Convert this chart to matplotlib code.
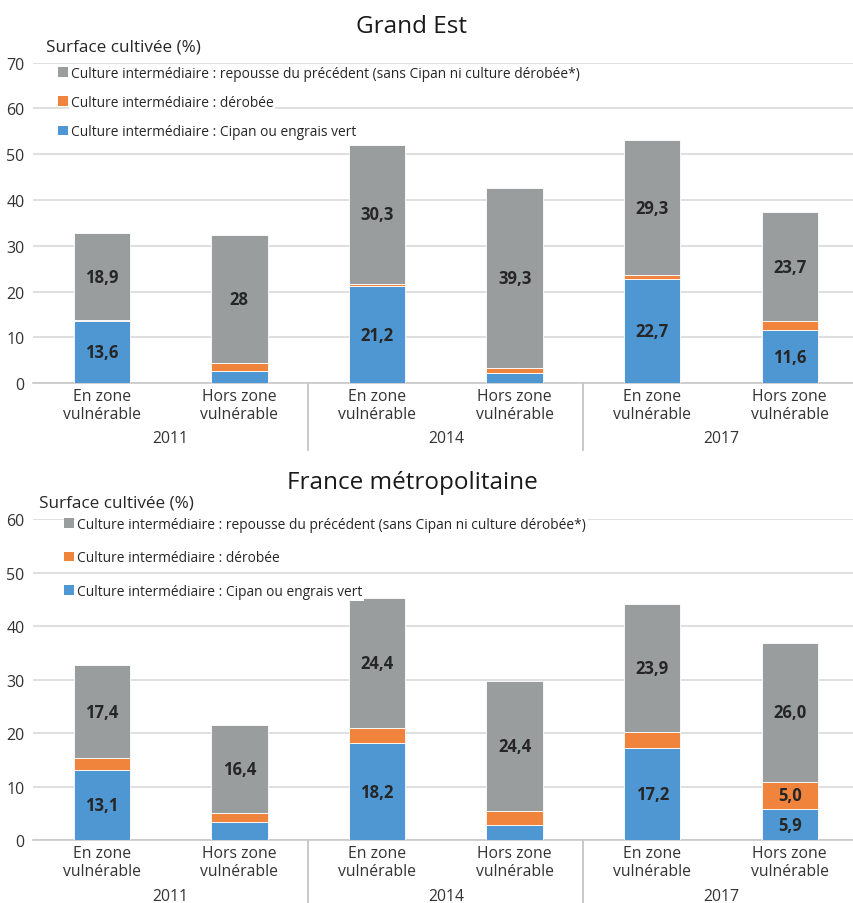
import matplotlib
matplotlib.use("Agg")
import matplotlib.pyplot as plt
from matplotlib.transforms import blended_transform_factory

plt.rcParams['font.family'] = ['Open Sans', 'DejaVu Sans']

# ---- data ----
categories = ["En zone\nvulnérable", "Hors zone\nvulnérable"] * 3
years = ["2011", "2014", "2017"]
series_names = [
    "Culture intermédiaire : Cipan ou engrais vert",
    "Culture intermédiaire : dérobée",
    "Culture intermédiaire : repousse du précédent (sans Cipan ni culture dérobée*)",
]
colors = ["#4f97d2", "#f0843c", "#9a9d9e"]

ge_cipan = [13.6, 2.7, 21.2, 2.3, 22.7, 11.6]
ge_derobee = [0.2, 1.7, 0.5, 1.1, 1.0, 2.0]
ge_repousse = [18.9, 28, 30.3, 39.3, 29.3, 23.7]

fr_cipan = [13.1, 3.4, 18.2, 2.9, 17.2, 5.9]
fr_derobee = [2.2, 1.7, 2.7, 2.5, 3.1, 5.0]
fr_repousse = [17.4, 16.4, 24.4, 24.4, 23.9, 26.0]

# which segments carry a value label
ge_labels = [[True, False, True, False, True, True],
             [False] * 6,
             [True] * 6]
fr_labels = [[True, False, True, False, True, True],
             [False, False, False, False, False, True],
             [True] * 6]

W, H = 854, 904
fig = plt.figure(figsize=(W / 100, H / 100), dpi=100)

def px_rect(left, top, right, bottom):
    return [left / W, 1 - bottom / H, (right - left) / W, (bottom - top) / H]

def draw_panel(ax, title, title_y, series, labels, fmt, ymax, surf_xy,
               leg_anchor, leg_spacing, sep_frac, year_frac):
    x = list(range(len(categories)))
    bottoms = [0.0] * len(x)
    containers = []
    for vals, col, name, lab in zip(series, colors, series_names, labels):
        bc = ax.bar(x, vals, width=0.41, bottom=bottoms, color=col,
                    edgecolor="white", linewidth=0.6, label=name, zorder=3)
        containers.append(bc)
        for xi, v, b, show in zip(x, vals, bottoms, lab):
            if show:
                ax.text(xi, b + v / 2, fmt(v), ha="center", va="center",
                        fontsize=12, fontweight="bold", color="#262626", zorder=4)
        bottoms = [b + v for b, v in zip(bottoms, vals)]

    ax.set_xlim(-0.5, len(x) - 0.5)
    ax.set_ylim(0, ymax)
    ax.set_yticks(range(0, ymax + 1, 10))
    ax.set_xticks(x)
    ax.set_xticklabels(categories, fontsize=11.3, color="#333333", linespacing=1.15)
    ax.tick_params(axis="x", length=0, pad=3.5)
    ax.tick_params(axis="y", length=0, pad=6, labelsize=11.5, labelcolor="#333333")
    for s in ["top", "right", "left"]:
        ax.spines[s].set_visible(False)
    ax.spines["bottom"].set_color("#c8c8c8")
    ax.spines["bottom"].set_linewidth(1.2)
    ax.grid(axis="y", color="#d9d9d9", linewidth=1.2, zorder=0)
    ax.set_axisbelow(True)

    trans = blended_transform_factory(ax.transData, ax.transAxes)
    for gi, yr in enumerate(years):
        ax.text(2 * gi + 0.5, -year_frac, yr, transform=trans, ha="center",
                va="center", fontsize=11.3, color="#333333")
    for sx in [1.5, 3.5]:
        ax.plot([sx, sx], [0, -sep_frac], transform=trans, color="#c0c0c0",
                linewidth=1.2, clip_on=False)

    fig.text(412 / W, 1 - title_y / H, title, ha="center", va="center",
             fontsize=17.5, color="#1a1a1a")
    fig.text(surf_xy[0] / W, 1 - surf_xy[1] / H, "Surface cultivée (%)",
             ha="left", va="center", fontsize=12.3, color="#262626")

    handles = containers[::-1]
    names = series_names[::-1]
    leg = ax.legend(handles, names, loc="upper left",
                    bbox_to_anchor=(leg_anchor[0] / W, 1 - leg_anchor[1] / H),
                    bbox_transform=fig.transFigure, frameon=False,
                    fontsize=9.9, handlelength=0.72, handleheight=0.72,
                    handletextpad=0.2, labelspacing=leg_spacing, borderpad=0,
                    borderaxespad=0)
    for t in leg.get_texts():
        t.set_color("#262626")
        t.set_bbox(dict(facecolor="white", edgecolor="none", pad=1.5))
    for h in leg.legend_handles:
        h.set_edgecolor("none")
    leg.set_zorder(5)

ax1 = fig.add_axes(px_rect(33, 63.5, 858.6, 384.3))
draw_panel(ax1, "Grand Est", 27, [ge_cipan, ge_derobee, ge_repousse],
           ge_labels, lambda v: f"{v:g}".replace(".", ","), 70,
           (46, 48), (58, 67), 1.03, 0.207, 0.17)

ax2 = fig.add_axes(px_rect(33, 520.3, 858.6, 841.3))
draw_panel(ax2, "France métropolitaine", 483, [fr_cipan, fr_derobee, fr_repousse],
           fr_labels, lambda v: f"{v:.1f}".replace(".", ","), 60,
           (39, 504), (64, 518), 1.33, 0.2, 0.172)

fig.savefig("out.png", dpi=100)
